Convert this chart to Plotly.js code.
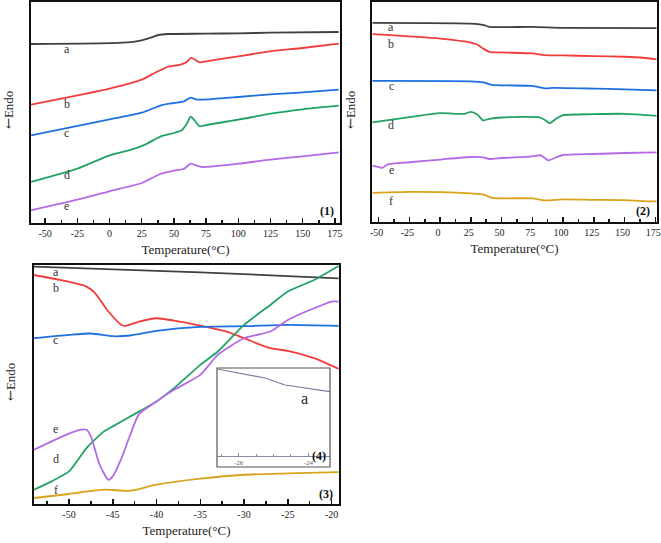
<!DOCTYPE html>
<html>
<head>
<meta charset="utf-8">
<script src="https://cdn.plot.ly/plotly-3.0.1.min.js"></script>
<style>html,body{margin:0;padding:0;background:#fff;}#chart{width:661px;height:543px;}</style>
</head>
<body>
<div id="chart"></div>
<script>
// ---------- Panel (1) ----------
const p1_aT = [-61, 10, 25, 32, 38, 45, 75, 100, 125, 178];
const p1_a  = [179, 180.3, 182.7, 185.3, 188, 189, 189.3, 189.7, 190.3, 191];
const p1_bT = [-61, 0, 25, 35, 45, 55, 60, 63, 66, 70, 75, 100, 125, 150, 178];
const p1_b  = [118.3, 134.3, 143.3, 150, 156, 158.3, 161, 165, 163.7, 160.7, 161.7, 166.7, 171.7, 175, 179.3];
const p1_cT = [-61, 0, 25, 40, 50, 58, 63, 67, 72, 100, 125, 150, 178];
const p1_c  = [87.7, 103.7, 110.3, 117.7, 120, 121.7, 125.3, 123.7, 123.3, 126, 128.7, 130.7, 133.3];
const p1_dT = [-61, -25, 0, 15, 28, 40, 50, 56, 60, 63, 66, 70, 75, 100, 125, 150, 178];
const p1_d  = [41, 54.3, 67.7, 72.7, 78.7, 86.7, 90, 92.7, 99.3, 106.3, 102.7, 96.7, 98, 103.3, 109.3, 113.7, 117.3];
const p1_eT = [-61, -25, 0, 25, 40, 50, 58, 63, 67, 72, 100, 125, 150, 178];
const p1_e  = [12.7, 23.3, 31.7, 40, 49.3, 52.3, 54.3, 59.3, 57.7, 56, 59.3, 63.3, 66.7, 70.7];

// ---------- Panel (2) ----------
const p2_aT = [-55, 25, 35, 40, 75, 100, 176];
const p2_a  = [200, 199.3, 198, 196, 196, 195, 194.7];
const p2_bT = [-55, 0, 25, 30, 35, 40, 50, 75, 85, 100, 125, 150, 165, 176];
const p2_b  = [188.7, 184.3, 180.3, 178.3, 174.3, 171, 170.3, 169.3, 167.7, 167.3, 166.7, 166, 165, 163.3];
const p2_cT = [-55, 25, 35, 42, 75, 85, 92, 125, 150, 176];
const p2_c  = [141.7, 141.3, 140.3, 137.7, 136.7, 134.3, 134.7, 134, 133.3, 132.3];
const p2_dT = [-55, -25, 0, 20, 25, 30, 35, 40, 50, 80, 85, 89, 95, 100, 125, 150, 176];
const p2_d  = [100, 105.3, 109.3, 108.7, 110.7, 108.3, 102, 103.7, 105, 105.3, 102.7, 99.3, 104.3, 107.3, 108.3, 108.7, 106.7];
const p2_eT = [-55, -50, -47, -43, -25, 0, 25, 35, 40, 50, 75, 82, 88, 95, 100, 125, 150, 176];
const p2_e  = [56.7, 55.3, 54.3, 57.7, 60, 62.7, 65.3, 65, 63.3, 64.3, 66, 67, 62, 65.3, 67.3, 68.3, 69.3, 70];
const p2_fT = [-55, -35, -25, 0, 25, 35, 42, 75, 85, 100, 125, 150, 165, 176];
const p2_f  = [29.3, 30, 30.3, 30, 28.7, 27.7, 24.3, 23.7, 21.7, 22.7, 22.3, 22, 21, 20.7];

// ---------- Panel (3) ----------
const p3_aT = [-54, -35, -19.2];
const p3_a  = [237.7, 232, 226];
const p3_bT = [-54, -51, -48, -47, -45.5, -44, -43.5, -42, -40, -38, -35, -32, -30, -27, -25, -22, -19.2];
const p3_b  = [229.3, 224.3, 217.7, 211, 192.7, 179.3, 178.3, 182.7, 186, 183.7, 178.7, 172.7, 166, 156, 153.3, 146, 135.3];
const p3_cT = [-54, -50, -47.5, -45, -43, -40, -35, -30, -25, -19.2];
const p3_c  = [166, 169.3, 170.7, 168, 168.7, 173.3, 177.3, 178, 179.3, 178.3];
const p3_dT = [-54, -52, -50, -48, -46, -45, -43, -40, -38, -35, -33, -30, -27, -25, -22, -19.2];
const p3_d  = [14.3, 22.7, 32.7, 56, 72.7, 77.7, 87.7, 102.7, 116, 139.3, 152.7, 179.3, 199.3, 212.7, 224.3, 238.3];
const p3_eT = [-54, -51, -49, -48, -47.5, -46.5, -45.5, -45, -44, -43, -42, -40, -38, -35, -33, -30, -27, -25, -22, -20, -19.2];
const p3_e  = [54.3, 66.7, 73.7, 74.3, 67.7, 39.3, 24.3, 27.7, 46, 69.3, 90, 102.7, 114.3, 129.3, 149.3, 166, 172.7, 184.3, 196, 202.7, 202.7];
const p3_fT = [-54, -50, -46, -43, -40, -35, -30, -25, -19.2];
const p3_f  = [6, 10, 14.3, 13.3, 19.3, 25.3, 29.3, 30.7, 32];

// ---------- Inset (4) ----------
const p4_aT = [-26.61, -25.24, -24.67, -24.09, -23.38];
const p4_a  = [87, 78, 71, 68, 64.3];

// ---------- Tick labels ----------
const tick12Vals = [-50, -25, 0, 25, 50, 75, 100, 125, 150, 175];
const tick12Text = ["-50", "-25", "0", "25", "50", "75", "100", "125", "150", "175"];
const tick3Vals = [-50, -45, -40, -35, -30, -25, -20];
const tick3Text = ["-50", "-45", "-40", "-35", "-30", "-25", "-20"];
const tick4Vals = [-26, -24];
const tick4Text = ["-26", "-24"];
const curveLabels1 = ["a", "b", "c", "d", "e"];
const curveLabels2 = ["a", "b", "c", "d", "e", "f"];
const curveLabels3 = ["a", "b", "c", "d", "e", "f"];

const col = {a: "#404040", b: "#f23b3b", c: "#1f6fe0", d: "#22a363", e: "#b36ae6", f: "#d9a31a"};
const serif = "'Liberation Serif', 'Times New Roman', 'DejaVu Serif', serif";

function tr(x, y, c, xa, ya) {
  return {x: x, y: y, xaxis: xa, yaxis: ya, type: "scatter", mode: "lines",
          line: {color: c, width: 1.8, shape: "spline", smoothing: 0.6}, hoverinfo: "skip"};
}
const data = [
  tr(p1_aT, p1_a, col.a, "x", "y"), tr(p1_bT, p1_b, col.b, "x", "y"),
  tr(p1_cT, p1_c, col.c, "x", "y"), tr(p1_dT, p1_d, col.d, "x", "y"),
  tr(p1_eT, p1_e, col.e, "x", "y"),
  tr(p2_aT, p2_a, col.a, "x2", "y2"), tr(p2_bT, p2_b, col.b, "x2", "y2"),
  tr(p2_cT, p2_c, col.c, "x2", "y2"), tr(p2_dT, p2_d, col.d, "x2", "y2"),
  tr(p2_eT, p2_e, col.e, "x2", "y2"), tr(p2_fT, p2_f, col.f, "x2", "y2"),
  tr(p3_aT, p3_a, col.a, "x3", "y3"), tr(p3_bT, p3_b, col.b, "x3", "y3"),
  tr(p3_cT, p3_c, col.c, "x3", "y3"), tr(p3_dT, p3_d, col.d, "x3", "y3"),
  tr(p3_eT, p3_e, col.e, "x3", "y3"), tr(p3_fT, p3_f, col.f, "x3", "y3"),
  {x: p4_aT, y: p4_a, xaxis: "x4", yaxis: "y4", type: "scatter", mode: "lines",
   line: {color: "#7b7ba6", width: 1.2}, hoverinfo: "skip"}
];

const W = 661, H = 543;
const px = v => v / W;
const py = v => 1 - v / H;

function xax(dom, range, tv, tt, minorDt, anchor, shift) {
  return {domain: dom, range: range, anchor: anchor, showline: true, linewidth: 1.6, linecolor: "#111",
          mirror: true, showgrid: false, zeroline: false, tickmode: "array", tickvals: tv, ticktext: tt,
          ticks: "inside", ticklen: 5, tickwidth: 1.5, tickcolor: "#111", ticklabeloverflow: "allow",
          ticklabelshift: shift || 0,
          minor: {dtick: minorDt, ticks: "inside", ticklen: 3, tickwidth: 1.5, tickcolor: "#111", showgrid: false},
          tickfont: {family: serif, size: 10, color: "#222"},
          title: {text: "Temperature(°C)", font: {family: serif, size: 13, color: "#222"}, standoff: 7}};
}
function yax(dom, range, anchor) {
  return {domain: dom, range: range, anchor: anchor, showline: true, linewidth: 1.6, linecolor: "#111",
          mirror: true, showgrid: false, zeroline: false, showticklabels: false, ticks: ""};
}

const layout = {
  width: W, height: H, margin: {l: 0, r: 0, t: 0, b: 0},
  paper_bgcolor: "#fff", plot_bgcolor: "#fff", showlegend: false,
  font: {family: serif, color: "#222"},
  xaxis: xax([px(31), px(340)], [-61, 179], tick12Vals, tick12Text, 12.5, "y"),
  yaxis: yax([py(223), py(2)], [0, 221], "x"),
  xaxis2: xax([px(372), px(657)], [-55.4, 176.4], tick12Vals, tick12Text, 12.5, "y2", -2),
  yaxis2: yax([py(222), py(2)], [0, 221], "x2"),
  xaxis3: xax([px(34), px(339)], [-54, -19.15], tick3Vals, tick3Text, 2.5, "y3"),
  yaxis3: yax([py(504), py(265)], [0, 239.3], "x3"),
  xaxis4: {domain: [px(217), px(330)], range: [-26.62, -23.38], anchor: "y4", showline: true, linewidth: 1,
           linecolor: "#8a8aa8", mirror: false, showgrid: false, zeroline: false, tickmode: "array",
           tickvals: tick4Vals, ticktext: tick4Text, ticks: "inside", ticklen: 3, tickwidth: 1, tickcolor: "#8a8aa8",
           minor: {dtick: 0.5, ticks: "inside", ticklen: 2, tickwidth: 1, tickcolor: "#8a8aa8", showgrid: false},
           tickfont: {family: serif, size: 7, color: "#666"}},
  yaxis4: {domain: [py(456), py(368)], range: [0, 88], anchor: "x4", showline: false, showgrid: false,
           zeroline: false, showticklabels: false, ticks: ""},
  shapes: [
    {type: "rect", xref: "paper", yref: "paper", x0: px(217), x1: px(330), y0: py(467), y1: py(368),
     line: {color: "#555", width: 1.2}, fillcolor: "rgba(0,0,0,0)", layer: "above"}
  ],
  annotations: []
};

// y axis titles
[[8, 110], [350, 110], [10, 382]].forEach(p => layout.annotations.push({
  xref: "paper", yref: "paper", x: px(p[0]), y: py(p[1]),
  text: "<span style=\"font-family:'DejaVu Serif';color:#222\">←</span>Endo", textangle: -90, showarrow: false,
  xanchor: "center", yanchor: "middle", font: {family: serif, size: 13, color: "#222"}}));

// curve labels
const lab1Y = [174.3, 119.3, 90.3, 47.7, 16.7];
curveLabels1.forEach((t, i) => layout.annotations.push({xref: "x", yref: "y", x: -33.2, y: lab1Y[i], text: t,
  showarrow: false, font: {family: serif, size: 12, color: "#333"}}));
const lab2Y = [196, 179.3, 136.7, 97.7, 52.7, 21];
curveLabels2.forEach((t, i) => layout.annotations.push({xref: "x2", yref: "y2", x: -39.7, y: lab2Y[i], text: t,
  showarrow: false, font: {family: serif, size: 12, color: "#333"}}));
const lab3Y = [232.7, 216, 164.3, 45.3, 75.3, 14.3];
curveLabels3.forEach((t, i) => layout.annotations.push({xref: "x3", yref: "y3", x: -51.5, y: lab3Y[i], text: t,
  showarrow: false, font: {family: serif, size: 12, color: "#333"}}));
layout.annotations.push({xref: "x4", yref: "y4", x: -24.1, y: 58, text: "a", showarrow: false,
  font: {family: serif, size: 16, color: "#222"}});

// panel ids
[["(1)", 336, 211], ["(2)", 652, 211], ["(3)", 335, 494], ["(4)", 328, 456]].forEach(p => layout.annotations.push({
  xref: "paper", yref: "paper", x: px(p[1]), y: py(p[2]), text: "<b>" + p[0] + "</b>", showarrow: false,
  xanchor: "right", yanchor: "middle", font: {family: serif, size: 12, color: "#111"}}));

Plotly.newPlot("chart", data, layout, {staticPlot: true, displayModeBar: false});
</script>
</body>
</html>
